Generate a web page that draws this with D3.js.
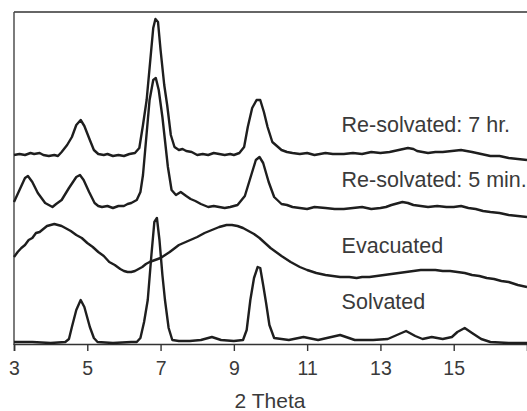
<!DOCTYPE html>
<html>
<head>
<meta charset="utf-8">
<script src="https://cdn.jsdelivr.net/npm/d3@7"></script>
<style>
  html, body { margin: 0; padding: 0; background: #fff; }
  svg { display: block; }
  text { font-family: "Liberation Sans", Arial, sans-serif; fill: #3a3a3a; }
</style>
</head>
<body>
<svg id="chart" width="527" height="411"></svg>
<script>
// 2 Theta tick labels
const xTicks = [3, 5, 7, 9, 11, 13, 15];

// Series: [2θ, intensity (a.u., offset stacked)]
const resolvated7hr = [
  [3.0,190],[3.15,191],[3.3,190],[3.45,192],[3.55,191],[3.7,192],[3.8,190],[3.95,189],[4.1,190],
  [4.2,189],[4.3,193],[4.45,200],[4.58,208],[4.7,220],[4.82,225],[4.92,219],[5.07,205],[5.18,195],
  [5.3,191],[5.45,190],[5.55,191],[5.7,189],[5.85,190],[6.0,189],[6.15,191],[6.3,192],[6.42,197],
  [6.52,220],[6.62,245],[6.72,285],[6.8,317],[6.86,326],[6.93,323],[7.0,295],[7.1,260],[7.18,240],
  [7.28,210],[7.38,198],[7.5,195],[7.6,196],[7.7,194],[7.85,193],[8.0,190],[8.15,191],[8.3,190],
  [8.45,192],[8.6,191],[8.75,190],[8.9,191],[9.0,190],[9.15,192],[9.28,198],[9.38,218],[9.5,237],
  [9.62,245],[9.72,245],[9.82,233],[9.92,218],[10.05,203],[10.3,195],[10.45,193],[10.6,192],
  [10.8,191],[11.0,192],[11.2,190],[11.5,192],[11.7,191],[12.0,191],[12.25,192],[12.5,191],
  [12.75,193],[13.0,192],[13.25,193],[13.5,195],[13.75,197],[13.9,196],[14.0,194],[14.15,193],
  [14.3,192],[14.5,193],[14.7,193],[14.95,194],[15.2,195],[15.35,194],[15.5,193],[15.75,191],
  [16.0,189],[16.25,189],[16.5,187],[16.75,186],[17.0,185]
];
const resolvated5min = [
  [3.0,143],[3.15,155],[3.3,167],[3.38,169],[3.5,163],[3.65,152],[3.85,142],[3.95,140],[4.05,138],
  [4.15,141],[4.3,145],[4.5,157],[4.7,168],[4.8,170],[4.9,165],[5.05,153],[5.2,142],[5.3,139],
  [5.4,138],[5.55,139],[5.7,137],[5.85,139],[6.0,139],[6.1,141],[6.2,142],[6.35,145],[6.45,153],
  [6.52,170],[6.58,195],[6.7,245],[6.8,265],[6.87,267],[6.95,255],[7.05,228],[7.2,178],[7.3,155],
  [7.42,150],[7.55,153],[7.7,149],[7.82,146],[7.95,144],[8.1,141],[8.3,138],[8.45,139],[8.6,138],
  [8.75,137],[8.9,138],[9.0,139],[9.1,140],[9.3,149],[9.45,167],[9.6,185],[9.7,188],[9.8,182],
  [9.95,163],[10.1,148],[10.3,141],[10.45,140],[10.6,138],[10.8,137],[11.0,136],[11.2,138],
  [11.5,137],[11.75,136],[12.0,136],[12.25,137],[12.5,138],[12.75,136],[13.0,137],[13.15,138],
  [13.3,140],[13.6,143],[13.75,142],[13.9,140],[14.1,139],[14.3,138],[14.55,139],[14.8,138],
  [15.0,138],[15.2,139],[15.4,137],[15.6,136],[15.8,134],[16.0,133],[16.25,132],[16.5,130],
  [16.75,129],[17.0,128]
];
const evacuated = [
  [3.0,88],[3.1,93],[3.2,97],[3.3,100],[3.4,105],[3.5,107],[3.6,112],[3.7,113],[3.8,116],[3.9,119],
  [4.0,120],[4.1,121],[4.2,120],[4.3,119],[4.4,117],[4.55,114],[4.7,110],[4.85,107],[5.0,102],
  [5.15,98],[5.3,93],[5.45,89],[5.6,83],[5.75,80],[5.9,76],[6.0,74],[6.1,73],[6.2,73],[6.3,74],
  [6.4,76],[6.5,78],[6.6,81],[6.7,83],[6.85,85],[7.0,87],[7.25,93],[7.5,100],[7.75,104],[8.0,108],
  [8.2,112],[8.4,115],[8.6,118],[8.8,120],[8.95,120],[9.1,119],[9.25,117],[9.4,114],[9.55,111],
  [9.7,107],[9.85,102],[10.0,97],[10.15,93],[10.3,89],[10.55,83],[10.8,78],[11.0,75],[11.25,72],
  [11.5,70],[11.7,69],[11.9,68],[12.15,68],[12.35,67],[12.5,68],[12.7,68],[12.9,69],[13.1,70],
  [13.3,71],[13.5,72],[13.7,73],[13.9,74],[14.1,75],[14.3,75],[14.5,75],[14.7,74],[14.9,74],
  [15.1,73],[15.3,72],[15.5,70],[15.7,69],[15.9,67],[16.1,66],[16.3,64],[16.5,63],[16.75,60],
  [17.0,58]
];
const solvated = [
  [3.0,3],[3.5,3],[4.0,2],[4.4,3],[4.5,6],[4.58,18],[4.7,35],[4.82,45],[4.92,38],[5.07,18],
  [5.18,7],[5.28,3],[5.7,2],[6.2,3],[6.35,3],[6.45,7],[6.55,23],[6.65,45],[6.75,90],[6.83,123],
  [6.9,127],[6.97,105],[7.05,70],[7.12,45],[7.22,17],[7.32,5],[7.5,4],[7.8,4],[8.1,5],[8.4,8],
  [8.65,5],[9.0,4],[9.25,5],[9.35,15],[9.45,45],[9.55,67],[9.65,78],[9.72,77],[9.8,60],[9.88,42],
  [9.97,20],[10.1,7],[10.5,5],[10.9,8],[11.3,5],[11.9,10],[12.3,5],[12.8,5],[13.2,6],[13.45,10],
  [13.7,14],[13.95,9],[14.15,6],[14.4,8],[14.7,6],[14.95,8],[15.1,13],[15.3,17],[15.5,12],
  [15.75,6],[16.0,3],[16.5,2],[17.0,2]
];

const seriesList = [resolvated7hr, resolvated5min, evacuated, solvated];
const seriesLabels = ["Re-solvated: 7 hr.", "Re-solvated: 5 min.", "Evacuated", "Solvated"];
const labelIntensity = [213, 158, 92, 36];
const labelTheta = 11.94;

const svg = d3.select("#chart");
const x = d3.scaleLinear().domain([3, 17]).range([14, 527]);
const y = d3.scaleLinear().domain([0, 333]).range([345, 12]);

// frame: top and left
svg.append("line").attr("x1", 14).attr("x2", 527).attr("y1", 12).attr("y2", 12)
  .attr("stroke", "#333").attr("stroke-width", 1.6);
svg.append("line").attr("x1", 14).attr("x2", 14).attr("y1", 12).attr("y2", 345)
  .attr("stroke", "#444").attr("stroke-width", 1.4);

// x axis
const xAxis = d3.axisBottom(x).tickValues(xTicks).tickSize(7).tickPadding(10).tickFormat(d3.format("d"));
const gx = svg.append("g").attr("transform", "translate(0,344)").call(xAxis);
gx.select(".domain").attr("stroke", "#333").attr("stroke-width", 1.6);
gx.selectAll(".tick line").attr("stroke", "#333").attr("stroke-width", 1.4);
gx.selectAll(".tick text").attr("font-size", 19.5).attr("font-family", "Liberation Sans, Arial, sans-serif").attr("fill", "#3a3a3a");

// axis title
svg.append("text").attr("x", 270).attr("y", 408).attr("text-anchor", "middle")
  .attr("font-size", 21).text("2 Theta");

// traces
const line = d3.line().x(d => x(d[0])).y(d => y(d[1])).curve(d3.curveLinear);
svg.append("g").selectAll("path").data(seriesList).join("path")
  .attr("d", line).attr("fill", "none").attr("stroke", "#1e1e1e")
  .attr("stroke-width", 2.4).attr("stroke-linejoin", "round");

// labels
svg.append("g").selectAll("text").data(seriesLabels).join("text")
  .attr("x", x(labelTheta)).attr("y", (d, i) => y(labelIntensity[i]))
  .attr("font-size", 21.5).text(d => d);
</script>
</body>
</html>
